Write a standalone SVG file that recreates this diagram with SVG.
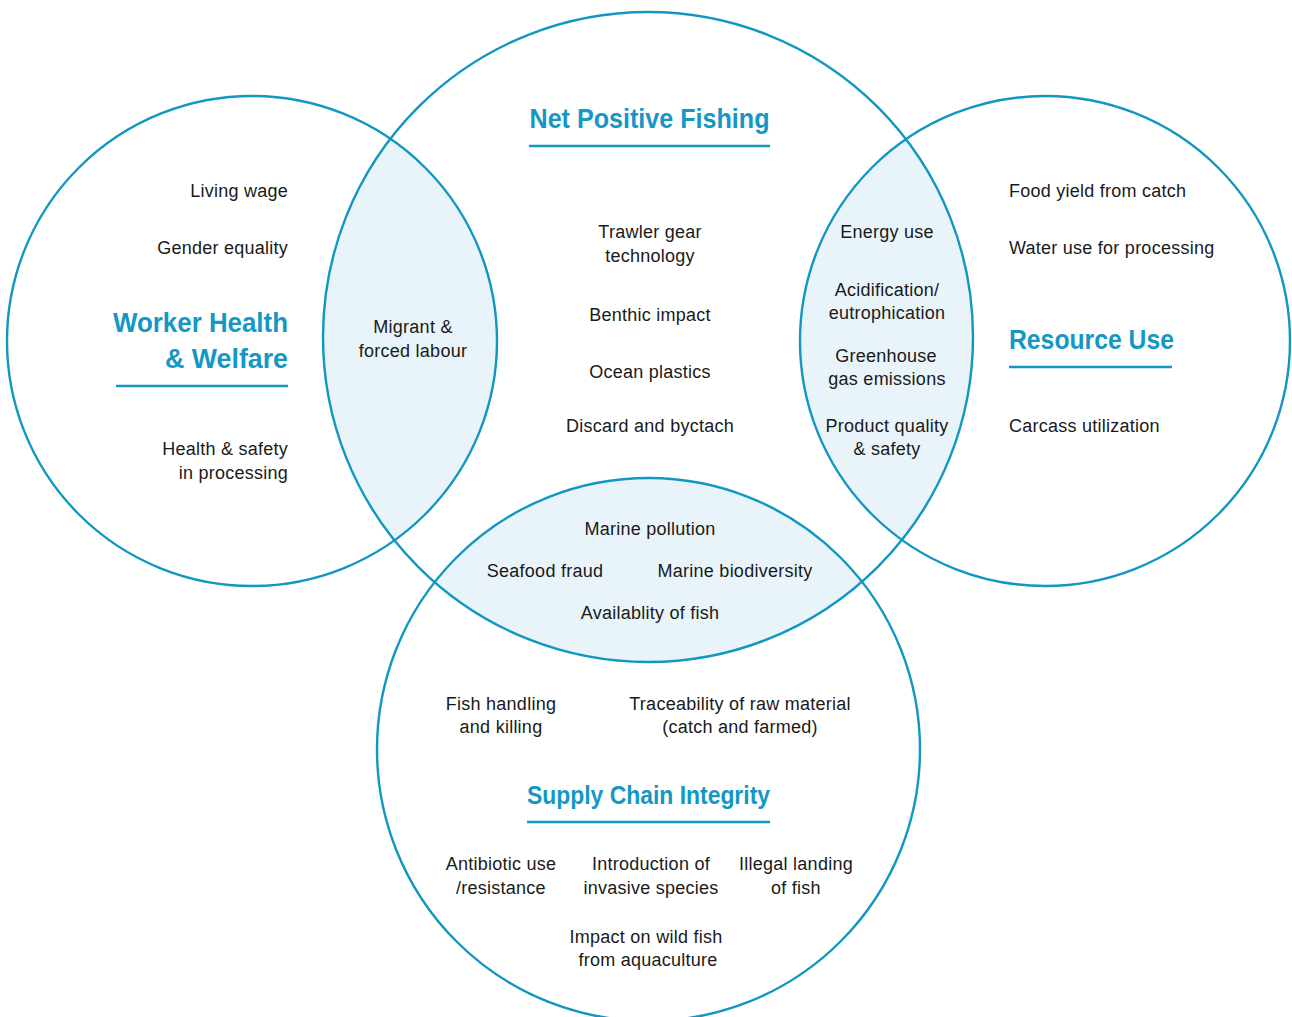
<svg xmlns="http://www.w3.org/2000/svg" width="1292" height="1017" viewBox="0 0 1292 1017">
<style>
.ring{fill:none;stroke:#1296c2;stroke-width:2.4}
.lens{fill:#e8f4f9;stroke:none}
.t{font-family:"Liberation Sans",Arial,sans-serif;font-size:18px;letter-spacing:0.25px;fill:#1a1a1a}
.m{text-anchor:middle}
.e{text-anchor:end}
.h{font-family:"Liberation Sans",Arial,sans-serif;font-weight:bold;fill:#1497c4}
.ul{stroke:#1497c4;stroke-width:2.5}
</style>
<defs>
<clipPath id="clipTop"><circle cx="648" cy="337" r="325"/></clipPath>
</defs>
<rect width="1292" height="1017" fill="#ffffff"/>
<g id="overlaps" clip-path="url(#clipTop)">
<circle class="lens" cx="252" cy="341" r="245"/>
<circle class="lens" cx="1045" cy="341" r="245"/>
<circle class="lens" cx="648.5" cy="749.5" r="271.5"/>
</g>
<g id="connectors"></g>
<g id="worker-health">
<circle class="ring" cx="252" cy="341" r="245"/>
<text class="t e" x="288" y="197">Living wage</text>
<text class="t e" x="288" y="254">Gender equality</text>
<text class="h e" x="288" y="332" font-size="27" textLength="175" lengthAdjust="spacingAndGlyphs">Worker Health</text>
<text class="h e" x="288" y="368" font-size="27" textLength="123" lengthAdjust="spacingAndGlyphs">&amp; Welfare</text>
<line class="ul" x1="116" y1="386" x2="288" y2="386"/>
<text class="t e" x="288" y="455">Health &amp; safety</text>
<text class="t e" x="288" y="479">in processing</text>
</g>
<g id="net-positive-fishing">
<circle class="ring" cx="648" cy="337" r="325"/>
<text class="h m" x="649.5" y="128" font-size="28" textLength="240" lengthAdjust="spacingAndGlyphs">Net Positive Fishing</text>
<line class="ul" x1="529" y1="146" x2="770" y2="146"/>
<text class="t m" x="650" y="238">Trawler gear</text>
<text class="t m" x="650" y="262">technology</text>
<text class="t m" x="650" y="321">Benthic impact</text>
<text class="t m" x="650" y="378">Ocean plastics</text>
<text class="t m" x="650" y="432">Discard and byctach</text>
</g>
<g id="resource-use">
<circle class="ring" cx="1045" cy="341" r="245"/>
<text class="t" x="1009" y="197">Food yield from catch</text>
<text class="t" x="1009" y="254">Water use for processing</text>
<text class="h" x="1009" y="349" font-size="27" textLength="165" lengthAdjust="spacingAndGlyphs">Resource Use</text>
<line class="ul" x1="1009" y1="367" x2="1172" y2="367"/>
<text class="t" x="1009" y="432">Carcass utilization</text>
</g>
<g id="supply-chain-integrity">
<circle class="ring" cx="648.5" cy="749.5" r="271.5"/>
<text class="t m" x="501" y="710">Fish handling</text>
<text class="t m" x="501" y="733">and killing</text>
<text class="t m" x="740" y="710">Traceability of raw material</text>
<text class="t m" x="740" y="733">(catch and farmed)</text>
<text class="h m" x="648.5" y="804" font-size="25" textLength="243" lengthAdjust="spacingAndGlyphs">Supply Chain Integrity</text>
<line class="ul" x1="527" y1="822" x2="770" y2="822"/>
<text class="t m" x="501" y="870">Antibiotic use</text>
<text class="t m" x="501" y="894">/resistance</text>
<text class="t m" x="651" y="870">Introduction of</text>
<text class="t m" x="651" y="894">invasive species</text>
<text class="t m" x="796" y="870">Illegal landing</text>
<text class="t m" x="796" y="894">of fish</text>
<text class="t m" x="646" y="943">Impact on wild fish</text>
<text class="t m" x="648" y="966">from aquaculture</text>
</g>
<g id="worker-fishing-overlap">
<text class="t m" x="413" y="333">Migrant &amp;</text>
<text class="t m" x="413" y="357">forced labour</text>
</g>
<g id="fishing-resource-overlap">
<text class="t m" x="887" y="238">Energy use</text>
<text class="t m" x="887" y="296">Acidification/</text>
<text class="t m" x="887" y="319">eutrophication</text>
<text class="t m" x="886" y="362">Greenhouse</text>
<text class="t m" x="887" y="385">gas emissions</text>
<text class="t m" x="887" y="432">Product quality</text>
<text class="t m" x="887" y="455">&amp; safety</text>
</g>
<g id="fishing-supply-overlap">
<text class="t m" x="650" y="535">Marine pollution</text>
<text class="t m" x="545" y="577">Seafood fraud</text>
<text class="t m" x="735" y="577">Marine biodiversity</text>
<text class="t m" x="650" y="619">Availablity of fish</text>
</g>
</svg>
